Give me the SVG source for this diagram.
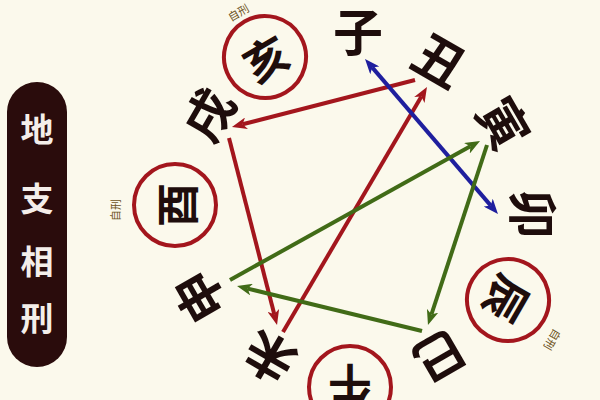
<svg xmlns="http://www.w3.org/2000/svg" width="600" height="400" viewBox="0 0 600 400">
<style>
.bg{fill:#fbf9ec}
.br{font-family:"Noto Sans CJK SC","Noto Sans CJK TC",sans-serif;font-weight:700;font-size:50px;fill:#1e0d0c;text-anchor:middle;dominant-baseline:central}
.brc{font-size:44px}
.ring{fill:none;stroke:#a3161d;stroke-width:4}
.self{font-family:"Noto Sans CJK SC",sans-serif;font-size:11px;fill:#6e5424;text-anchor:middle;dominant-baseline:central}
.title{font-family:"Noto Sans CJK SC",sans-serif;font-weight:700;font-size:33px;fill:#f4eeea;text-anchor:middle;dominant-baseline:central}
.red{stroke:#a3161d;stroke-width:4;fill:none}
.blue{stroke:#1f1f9e;stroke-width:4;fill:none}
.green{stroke:#416b17;stroke-width:4;fill:none}
</style>
<defs>
<marker id="ar" markerUnits="userSpaceOnUse" markerWidth="16" markerHeight="12" viewBox="0 0 16 12" refX="4" refY="6" orient="auto"><path d="M0,0 L15,6 L0,12 L4,6 z" fill="#a3161d"/></marker>
<marker id="ab" markerUnits="userSpaceOnUse" markerWidth="16" markerHeight="12" viewBox="0 0 16 12" refX="4" refY="6" orient="auto-start-reverse"><path d="M0,0 L15,6 L0,12 L4,6 z" fill="#1f1f9e"/></marker>
<marker id="ag" markerUnits="userSpaceOnUse" markerWidth="16" markerHeight="12" viewBox="0 0 16 12" refX="4" refY="6" orient="auto"><path d="M0,0 L15,6 L0,12 L4,6 z" fill="#416b17"/></marker>
</defs>
<rect class="bg" x="0" y="0" width="600" height="400"/>

<g id="title">
<rect x="7" y="82" width="60" height="285" rx="30" fill="#2a0c0c"/>
<text class="title" x="37" y="128">地</text>
<text class="title" x="37" y="197">支</text>
<text class="title" x="37" y="260">相</text>
<text class="title" x="37" y="317">刑</text>
</g>

<g id="connectors">
<line class="red" x1="415" y1="80" x2="242.6" y2="124.3" marker-end="url(#ar)"/>
<line class="red" x1="229" y1="138" x2="274.3" y2="314.3" marker-end="url(#ar)"/>
<line class="red" x1="283" y1="332" x2="421.4" y2="96.5" marker-end="url(#ar)"/>
<line class="blue" x1="372.2" y1="67.4" x2="490.8" y2="205.6" marker-start="url(#ab)" marker-end="url(#ab)"/>
<line class="green" x1="230" y1="280" x2="470.4" y2="146.3" marker-end="url(#ag)"/>
<line class="green" x1="487" y1="145" x2="431.4" y2="314.5" marker-end="url(#ag)"/>
<line class="green" x1="422" y1="331" x2="247.7" y2="288.6" marker-end="url(#ag)"/>
</g>

<g id="zi" transform="translate(358,29)"><text class="br">子</text></g>
<g id="chou" transform="translate(441,58) rotate(30)"><text class="br">丑</text></g>
<g id="yin" transform="translate(506,122) rotate(60)"><text class="br">寅</text></g>
<g id="mao" transform="translate(536,214) rotate(90)"><text class="br">卯</text></g>
<g id="chen" transform="translate(508,300) rotate(120)"><circle class="ring" r="41"/><text class="br brc">辰</text></g>
<g id="chen-self" transform="translate(553,340) rotate(120)"><text class="self">自刑</text></g>
<g id="si" transform="translate(441,359) rotate(150)"><text class="br">巳</text></g>
<g id="wu" transform="translate(350,387) rotate(180)"><circle class="ring" r="41"/><text class="br brc">午</text></g>
<g id="wei" transform="translate(268,360) rotate(210)"><text class="br">未</text></g>
<g id="shen" transform="translate(197,298) rotate(240)"><text class="br">申</text></g>
<g id="you" transform="translate(175,205) rotate(270)"><circle class="ring" r="41"/><text class="br brc">酉</text></g>
<g id="you-self" transform="translate(115,210) rotate(270)"><text class="self">自刑</text></g>
<g id="xu" transform="translate(206,113) rotate(300)"><text class="br">戌</text></g>
<g id="hai" transform="translate(265,57) rotate(330)"><circle class="ring" r="41"/><text class="br brc">亥</text></g>
<g id="hai-self" transform="translate(238,12) rotate(330)"><text class="self">自刑</text></g>
</svg>
